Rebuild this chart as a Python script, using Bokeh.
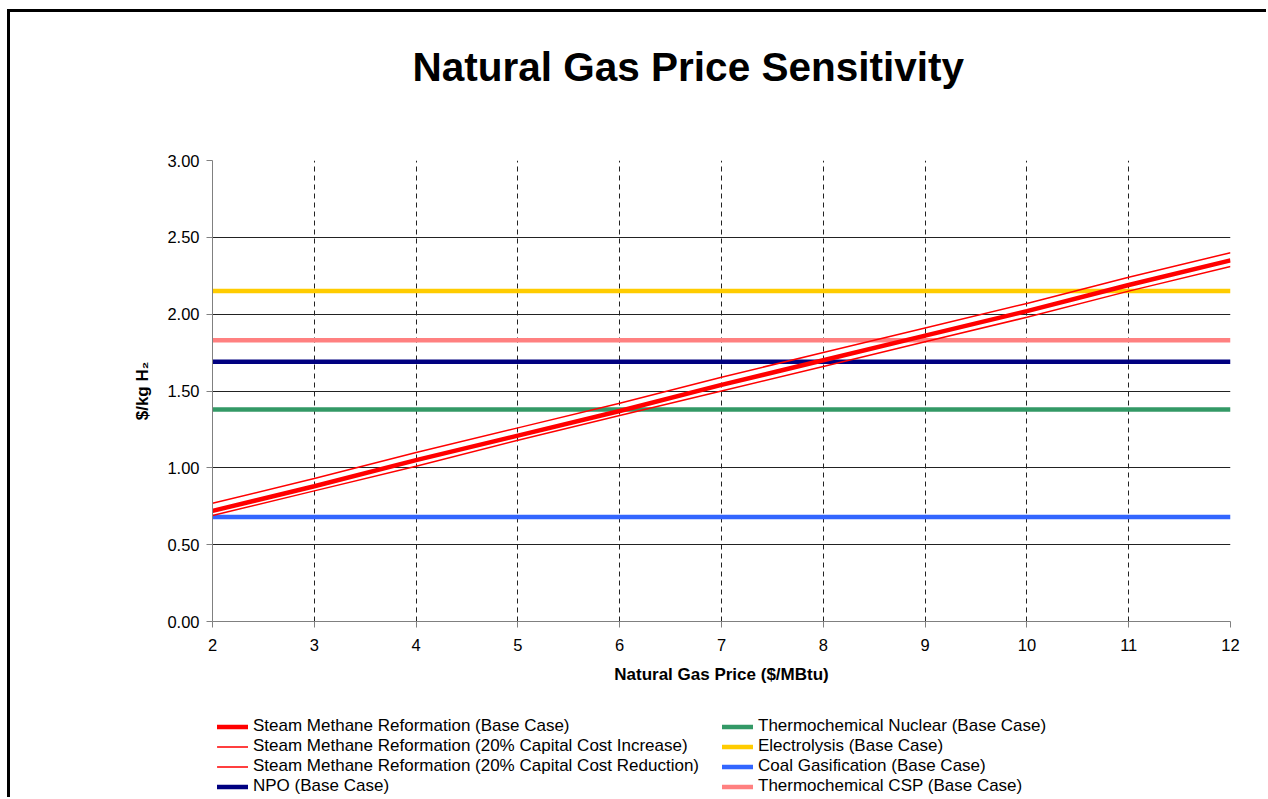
from bokeh.plotting import figure
from bokeh.models import Range1d, Legend, LegendItem, FixedTicker, NumeralTickFormatter, Title
from bokeh.layouts import column
from bokeh.embed import file_html
from bokeh.resources import INLINE

# ---- data ----
gas_price = [2, 3, 4, 5, 6, 7, 8, 9, 10, 11, 12]
smr_base = [0.72, 0.88, 1.05, 1.21, 1.37, 1.54, 1.70, 1.86, 2.02, 2.19, 2.35]
smr_increase = [0.77, 0.93, 1.10, 1.26, 1.42, 1.59, 1.75, 1.91, 2.07, 2.24, 2.40]
smr_reduction = [0.69, 0.85, 1.01, 1.18, 1.34, 1.50, 1.66, 1.82, 1.98, 2.15, 2.31]
npo_base = 1.69
nuclear_base = 1.38
electrolysis_base = 2.15
coal_base = 0.68
csp_base = 1.83
x_ticks = [2, 3, 4, 5, 6, 7, 8, 9, 10, 11, 12]
y_ticks = [0.0, 0.5, 1.0, 1.5, 2.0, 2.5, 3.0]

legend_col1 = ["Steam Methane Reformation (Base Case)",
               "Steam Methane Reformation (20% Capital Cost Increase)",
               "Steam Methane Reformation (20% Capital Cost Reduction)",
               "NPO (Base Case)"]
legend_col2 = ["Thermochemical Nuclear (Base Case)",
               "Electrolysis (Base Case)",
               "Coal Gasification (Base Case)",
               "Thermochemical CSP (Base Case)"]

FONT = "Liberation Sans"
W = 1256

RED, NAVY, GREEN, YELLOW, BLUE, PINK = "#FF0000", "#000080", "#339966", "#FFCC00", "#3366FF", "#FF8080"

p = figure(width=W, height=688, x_range=Range1d(2, 12), y_range=Range1d(0, 3),
           output_backend="svg", toolbar_location=None,
           min_border_left=202, min_border_right=W + 10 - 1230, min_border_top=148, min_border_bottom=79)
p.outline_line_color = None
p.background_fill_color = "white"
p.border_fill_color = "white"

# title (main) and a blank spacer between title and plot area
p.title.text = "Natural Gas Price Sensitivity"
p.title.text_font = FONT
p.title.text_font_size = "40.5px"
p.title.text_font_style = "bold"
p.title.text_color = "black"
p.title.align = "left"
p.title.offset = 200
p.title.standoff = 0
p.add_layout(Title(text=" ", text_font_size="10px", standoff=58), "above")

# grids
p.ygrid.ticker = FixedTicker(ticks=y_ticks)
p.ygrid.grid_line_color = "#222222"
p.ygrid.grid_line_width = 1
p.xgrid.ticker = FixedTicker(ticks=x_ticks)
p.xgrid.grid_line_color = "#222222"
p.xgrid.grid_line_dash = "5 4"
p.xgrid.grid_line_width = 1

# axes
for ax in (p.xaxis[0], p.yaxis[0]):
    ax.axis_line_color = "#808080"
    ax.major_tick_line_color = "#808080"
    ax.major_tick_out = 6
    ax.major_tick_in = 0
    ax.minor_tick_line_color = None
    ax.major_label_text_font = FONT
    ax.major_label_text_font_size = "16.5px"
    ax.major_label_text_color = "black"
    ax.axis_label_text_font = FONT
    ax.axis_label_text_font_size = "17px"
    ax.axis_label_text_font_style = "bold"
    ax.axis_label_text_color = "black"

p.xaxis.ticker = FixedTicker(ticks=x_ticks)
p.yaxis.ticker = FixedTicker(ticks=y_ticks)
p.yaxis.formatter = NumeralTickFormatter(format="0.00")
p.xaxis.axis_label = "Natural Gas Price ($/MBtu)"
p.yaxis.axis_label = "$/kg H\u2082"
p.xaxis.major_label_standoff = 11
p.yaxis.major_label_standoff = 7
p.xaxis.axis_label_standoff = 11
p.yaxis.axis_label_standoff = 12

xs = [gas_price[0], gas_price[-1]]
p.line(xs, [coal_base, coal_base], line_color=BLUE, line_width=4.5)
p.line(xs, [nuclear_base, nuclear_base], line_color=GREEN, line_width=4.5)
p.line(xs, [npo_base, npo_base], line_color=NAVY, line_width=4.5)
p.line(xs, [csp_base, csp_base], line_color=PINK, line_width=4.5)
p.line(xs, [electrolysis_base, electrolysis_base], line_color=YELLOW, line_width=4.5)
p.line(gas_price, smr_increase, line_color=RED, line_width=1.5)
p.line(gas_price, smr_reduction, line_color=RED, line_width=1.5)
p.line(gas_price, smr_base, line_color=RED, line_width=4.5)

# ---- legend strip below the chart ----
LH = 97
lf = figure(width=W, height=LH, x_range=Range1d(0, 1), y_range=Range1d(0, 1),
            x_axis_type=None, y_axis_type=None, output_backend="svg",
            toolbar_location=None, min_border=0)
lf.outline_line_color = None
lf.background_fill_color = "white"
lf.border_fill_color = "white"
lf.xgrid.visible = False
lf.ygrid.visible = False

NAN = float("nan")


def key(color, width):
    # legend key only: a line with no drawable points
    return lf.line([NAN], [NAN], line_color=color, line_width=width, line_cap="round")


col1_styles = [(RED, 4.5), (RED, 1.5), (RED, 1.5), (NAVY, 4.5)]
col2_styles = [(GREEN, 4.5), (YELLOW, 4.5), (BLUE, 4.5), (PINK, 4.5)]


def make_legend(labels, styles, x):
    items = [LegendItem(label=lab, renderers=[key(c, w)]) for lab, (c, w) in zip(labels, styles)]
    lg = Legend(items=items, location=(x, 1), orientation="vertical")
    lg.padding = 0
    lg.margin = 0
    lg.spacing = 0
    lg.border_line_color = None
    lg.background_fill_alpha = 0
    lg.glyph_width = 31
    lg.glyph_height = 19
    lg.label_height = 19
    lg.label_standoff = 5
    lg.label_text_font = FONT
    lg.label_text_font_size = "17px"
    lg.label_text_color = "black"
    return lg


lf.add_layout(make_legend(legend_col1, col1_styles, 5), "center")
lf.add_layout(make_legend(legend_col2, col2_styles, 510), "center")

layout = column(p, lf, spacing=0)
layout.styles = {"margin-left": "7px", "margin-top": "9px",
                 "border-left": "3px solid black", "border-top": "3px solid black"}

open("out.html", "w").write(file_html(layout, INLINE))
